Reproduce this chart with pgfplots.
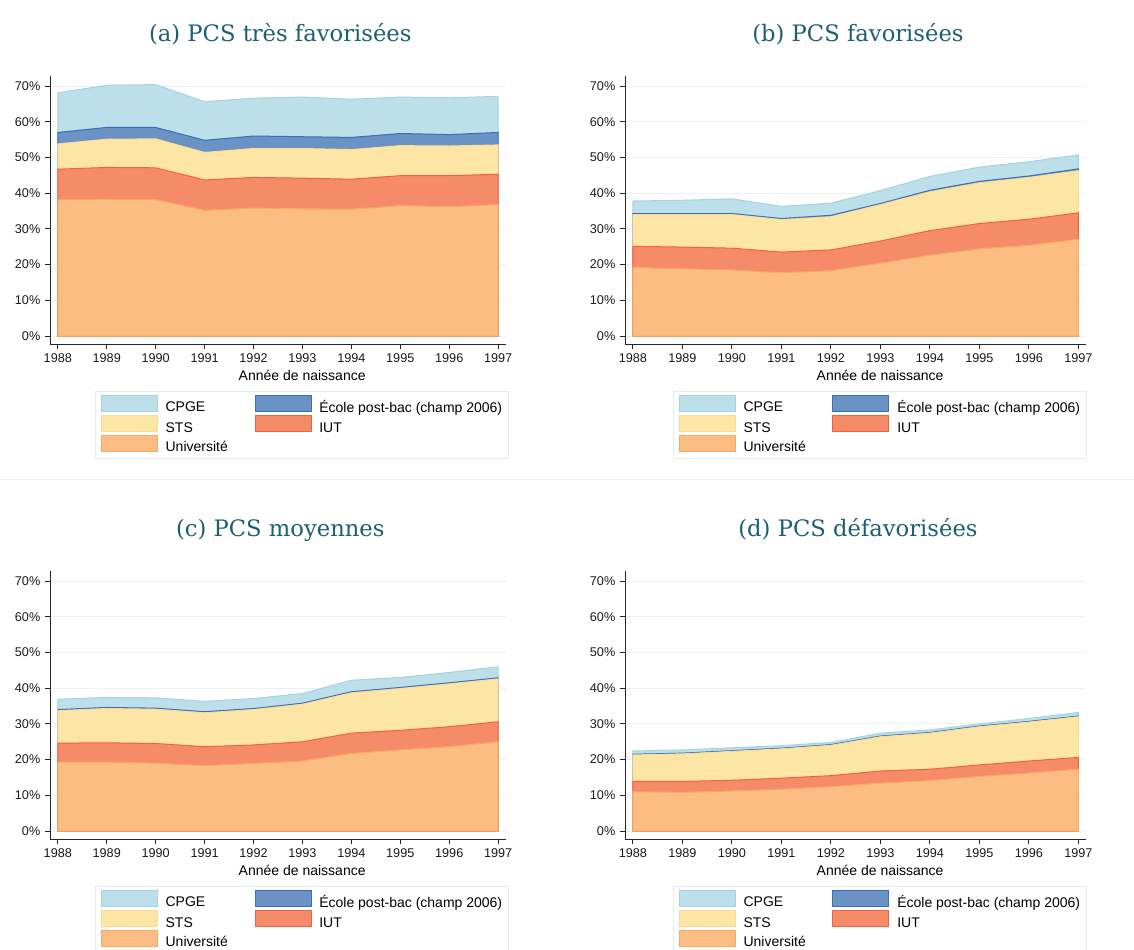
\documentclass[border=0pt]{standalone}
\usepackage{fontspec}
\setmainfont{Liberation Sans}
\newfontfamily\titlefont{DejaVu Serif}
\usepackage{pgfplots}
\usepackage{pgfplotstable}
\pgfplotsset{compat=1.18}

% cumulative tops of each layer, in %
\pgfplotstableread{
year cpge ecole sts iut univ
1988 68.1 57.0 53.8 46.7 38.2
1989 70.2 58.4 55.1 47.2 38.3
1990 70.4 58.4 55.2 47.1 38.2
1991 65.6 54.8 51.4 43.7 35.2
1992 66.6 56.0 52.5 44.4 35.8
1993 66.9 55.8 52.5 44.2 35.6
1994 66.3 55.6 52.2 43.9 35.5
1995 66.9 56.7 53.3 44.9 36.5
1996 66.7 56.4 53.2 44.9 36.2
1997 67.1 57.0 53.5 45.3 36.8
}\tabA
\pgfplotstableread{
year cpge ecole sts iut univ
1988 37.8 34.3 34.0 25.1 19.2
1989 38.0 34.3 34.0 24.9 18.8
1990 38.4 34.3 34.0 24.6 18.5
1991 36.3 32.9 32.6 23.5 17.7
1992 37.2 33.8 33.4 24.1 18.3
1993 40.7 37.1 36.8 26.6 20.4
1994 44.7 40.8 40.4 29.5 22.6
1995 47.3 43.3 42.9 31.5 24.4
1996 48.8 44.8 44.4 32.7 25.4
1997 50.7 46.8 46.3 34.5 27.1
}\tabB
\pgfplotstableread{
year cpge ecole sts iut univ
1988 36.9 34.0 33.7 24.6 19.3
1989 37.4 34.6 34.3 24.7 19.3
1990 37.3 34.4 34.1 24.5 19.0
1991 36.3 33.4 33.1 23.6 18.3
1992 37.1 34.3 34.0 24.1 18.9
1993 38.5 35.8 35.5 25.0 19.6
1994 42.2 39.0 38.7 27.4 21.7
1995 43.0 40.2 39.9 28.2 22.7
1996 44.4 41.5 41.2 29.2 23.6
1997 46.0 42.9 42.6 30.6 25.0
}\tabC
\pgfplotstableread{
year cpge ecole sts iut univ
1988 22.4 21.5 21.3 13.9 11.0
1989 22.7 21.8 21.6 13.9 10.8
1990 23.3 22.5 22.3 14.2 11.2
1991 23.9 23.2 23.0 14.8 11.7
1992 24.8 24.2 24.0 15.5 12.4
1993 27.4 26.6 26.4 16.8 13.4
1994 28.3 27.6 27.4 17.3 14.1
1995 30.0 29.4 29.2 18.5 15.3
1996 31.5 30.7 30.5 19.6 16.2
1997 33.2 32.2 32.0 20.6 17.3
}\tabD

\definecolor{cpgeF}{HTML}{BCDFEA}
\definecolor{cpgeD}{HTML}{A6D3E3}
\definecolor{ecoleF}{HTML}{6A92C5}
\definecolor{ecoleD}{HTML}{3D6DB5}
\definecolor{stsF}{HTML}{FDE5A6}
\definecolor{stsD}{HTML}{FBDC95}
\definecolor{iutF}{HTML}{F68B6A}
\definecolor{iutD}{HTML}{EF6440}
\definecolor{univF}{HTML}{FBBD82}
\definecolor{univD}{HTML}{F8AA62}
\definecolor{titlec}{HTML}{1C5F72}
\definecolor{gridc}{HTML}{EAF2F4}
\definecolor{legc}{HTML}{E2ECEF}

\pgfplotsset{
  panel/.style={
    scale only axis, width=342pt, height=201pt,
    xmin=1987.84, xmax=1997.16, ymin=-2.24, ymax=72.8,
    axis x line*=bottom, axis y line*=left,
    axis line style={line width=0.7pt, color=black!85},
    tick align=outside, major tick length=3.75pt,
    tick style={line width=0.7pt, color=black!85},
    xtick={1988,...,1997}, ytick={0,10,...,70},
    yticklabel={\pgfmathprintnumber{\tick}\%},
    x tick label style={/pgf/number format/1000 sep={}},
    tick label style={font=\fontsize{9.5}{11}\selectfont, color=black!90},
    /pgf/number format/assume math mode=true,
    ymajorgrids, grid style={color=gridc, line width=0.6pt},
    xlabel={Année de naissance},
    xlabel style={at={(axis description cs:0.553,-0.097)}, anchor=north, inner sep=0pt,
      font=\fontsize{10.5}{12}\selectfont},
    every axis title shift=0pt,
    title style={at={(axis description cs:0.505,1.127)}, anchor=base, yshift=0pt,
      font=\titlefont\fontsize{17}{20}\selectfont, color=titlec},
    legend columns=2, legend cell align=left,
    legend style={at={(axis description cs:0.553,-0.175)}, anchor=north,
      draw=legc, line width=0.6pt, font=\fontsize{10.5}{12}\selectfont,
      inner xsep=4pt, inner ysep=2.5pt, row sep=-0.8pt,
      nodes={inner sep=1pt},
      /tikz/every odd column/.append style={column sep=5pt},
      /tikz/every even column/.append style={column sep=19pt}},
    legend image code/.code={\draw[##1, line width=0.6pt] (0pt,-2.4pt) rectangle (42pt,9.6pt);},
  },
  lay/.style={line width=0.75pt},
}

\newcommand{\layers}[1]{%
  \addplot[lay, fill=cpgeF, draw=cpgeD] table[x=year,y=cpge] {#1} \closedcycle;
  \addlegendentry{CPGE}
  \addplot[lay, fill=ecoleF, draw=ecoleD] table[x=year,y=ecole] {#1} \closedcycle;
  \addlegendentry{École post-bac (champ 2006)}
  \addplot[lay, fill=stsF, draw=stsD] table[x=year,y=sts] {#1} \closedcycle;
  \addlegendentry{STS}
  \addplot[lay, fill=iutF, draw=iutD] table[x=year,y=iut] {#1} \closedcycle;
  \addlegendentry{IUT}
  \addplot[lay, fill=univF, draw=univD] table[x=year,y=univ] {#1} \closedcycle;
  \addlegendentry{Université}
}

\begin{document}
\begin{tikzpicture}
\path[use as bounding box] (0,0) rectangle (850.5pt,-711.75pt);
\clip (0,0) rectangle (850.5pt,-711.75pt);
\draw[color=black!5, line width=0.6pt] (0,-359.25pt) -- (850.5pt,-359.25pt);

\begin{axis}[panel, at={(37.5pt,-258pt)}, anchor=south west,
  title={(a) PCS très favorisées}]
\layers{\tabA}
\end{axis}

\begin{axis}[panel, width=346pt, at={(468.75pt,-258pt)}, anchor=south west,
  title={(b) PCS favorisées}]
\layers{\tabB}
\end{axis}

\begin{axis}[panel, at={(37.5pt,-629.25pt)}, anchor=south west,
  title={(c) PCS moyennes}]
\layers{\tabC}
\end{axis}

\begin{axis}[panel, width=346pt, at={(468.75pt,-629.25pt)}, anchor=south west,
  title={(d) PCS défavorisées}]
\layers{\tabD}
\end{axis}
\end{tikzpicture}
\end{document}
